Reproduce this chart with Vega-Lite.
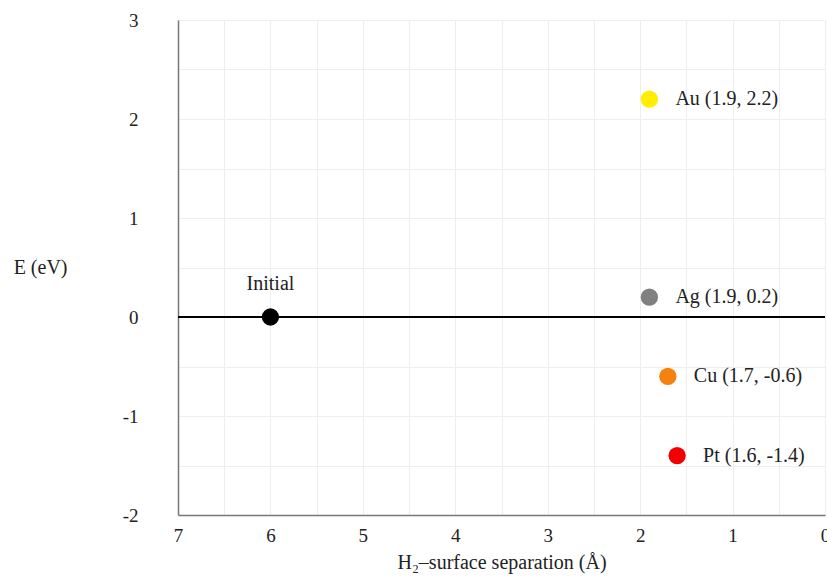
{
  "$schema": "https://vega.github.io/schema/vega-lite/v6.json",
  "autosize": "none",
  "width": 647,
  "height": 495,
  "padding": {"left": 178, "top": 20, "right": 2, "bottom": 62},
  "background": "white",
  "config": {
    "font": "Liberation Serif",
    "view": {"stroke": null},
    "axis": {"labelFont": "Liberation Serif", "titleFont": "Liberation Serif", "labelColor": "#222", "titleColor": "#222", "titleFontWeight": "normal"}
  },
  "data": {"values": [
    {"name": "Initial", "label": "Initial", "sep": 6.0, "E": 0.0},
    {"name": "Au", "label": "Au (1.9, 2.2)", "sep": 1.9, "E": 2.2},
    {"name": "Ag", "label": "Ag (1.9, 0.2)", "sep": 1.9, "E": 0.2},
    {"name": "Cu", "label": "Cu (1.7, -0.6)", "sep": 1.7, "E": -0.6},
    {"name": "Pt", "label": "Pt (1.6, -1.4)", "sep": 1.6, "E": -1.4}
  ]},
  "encoding": {
    "x": {
      "field": "sep", "type": "quantitative",
      "scale": {"domain": [7, 0], "nice": false, "zero": false},
      "axis": {
        "values": [7, 6.5, 6, 5.5, 5, 4.5, 4, 3.5, 3, 2.5, 2, 1.5, 1, 0.5, 0],
        "labelExpr": "datum.value % 1 == 0 ? toString(datum.value) : ''",
        "title": "H₂–surface separation (Å)",
        "grid": true, "gridColor": "#eeeeee", "gridWidth": 1,
        "domainColor": "#777777", "domainWidth": 1.5,
        "ticks": false, "labelPadding": 11, "labelFontSize": 19,
        "titleFontSize": 20, "titlePadding": 7, "labelFlush": false
      }
    },
    "y": {
      "field": "E", "type": "quantitative",
      "scale": {"domain": [-2, 3], "nice": false, "zero": false},
      "axis": {
        "values": [-2, -1.5, -1, -0.5, 0, 0.5, 1, 1.5, 2, 2.5, 3],
        "labelExpr": "datum.value % 1 == 0 ? toString(datum.value) : ''",
        "title": "E (eV)",
        "titleAngle": 0, "titleAlign": "right", "titleBaseline": "middle",
        "titleX": -111, "titleY": 247,
        "grid": true, "gridColor": "#eeeeee", "gridWidth": 1,
        "domainColor": "#777777", "domainWidth": 1.5,
        "ticks": false, "labelPadding": 40, "labelFontSize": 19,
        "titleFontSize": 20, "labelFlush": false
      }
    }
  },
  "layer": [
    {
      "mark": {"type": "rule", "color": "#000000", "strokeWidth": 1.6},
      "encoding": {"y": {"datum": 0}, "x": null}
    },
    {
      "mark": {"type": "circle", "opacity": 1, "size": 300},
      "encoding": {
        "color": {
          "field": "name", "type": "nominal", "legend": null,
          "scale": {"domain": ["Initial", "Au", "Ag", "Cu", "Pt"], "range": ["#000000", "#ffee00", "#808080", "#f5820f", "#f20000"]}
        }
      }
    },
    {
      "transform": [{"filter": "datum.name != 'Initial'"}],
      "mark": {"type": "text", "align": "left", "baseline": "middle", "dx": 26, "fontSize": 20, "color": "#222"},
      "encoding": {"text": {"field": "label"}}
    },
    {
      "transform": [{"filter": "datum.name == 'Initial'"}],
      "mark": {"type": "text", "align": "center", "baseline": "middle", "dy": -33, "fontSize": 20, "color": "#222"},
      "encoding": {"text": {"field": "label"}}
    }
  ]
}
